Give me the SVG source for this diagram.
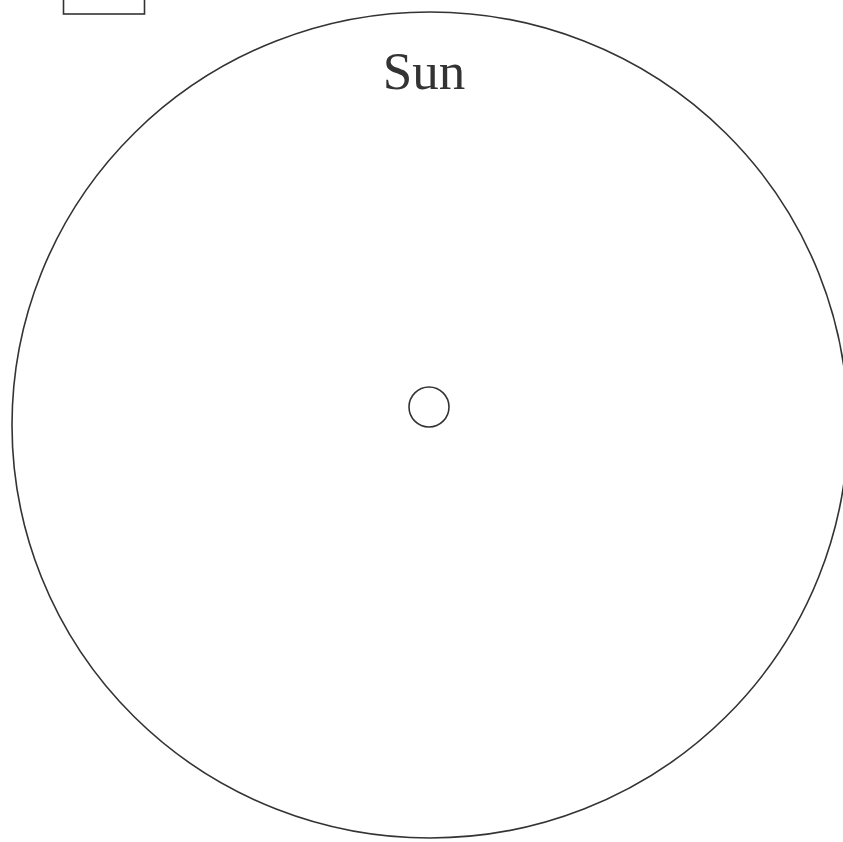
<svg xmlns="http://www.w3.org/2000/svg" width="843" height="842" viewBox="0 0 843 842">
<style>
.ln{fill:none;stroke:#333;stroke-width:1.6}
.lbl{font-family:"Liberation Serif",serif;font-size:53px;fill:#333}
</style>
<rect width="843" height="842" fill="#fff"/>
<g id="box"><rect class="ln" x="63.5" y="-5" width="81" height="19"/></g>
<g id="sun">
<ellipse class="ln" cx="430" cy="425" rx="418" ry="413"/>
<text class="lbl" x="424" y="89" text-anchor="middle">Sun</text>
</g>
<g id="center"><circle class="ln" cx="429" cy="407" r="20"/></g>
<g id="connectors"></g>
</svg>
